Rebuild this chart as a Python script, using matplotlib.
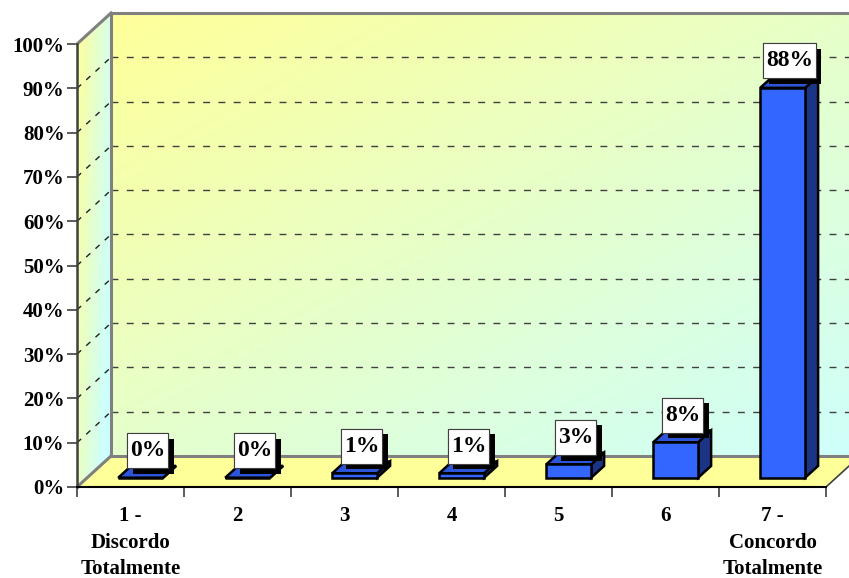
import numpy as np
import matplotlib
matplotlib.use("Agg")
import matplotlib.pyplot as plt
from matplotlib.patches import Polygon
from matplotlib.path import Path
from matplotlib import patheffects
from matplotlib.ticker import FuncFormatter

categories = ["1 -\nDiscordo\nTotalmente", "2", "3", "4", "5", "6",
              "7 -\nConcordo\nTotalmente"]
values = [0, 0, 1, 1, 3, 8, 88]
value_labels = ["0%", "0%", "1%", "1%", "3%", "8%", "88%"]
yticks = [0, 10, 20, 30, 40, 50, 60, 70, 80, 90, 100]

plt.rcParams['font.family'] = ['Liberation Serif', 'DejaVu Serif']
plt.rcParams['font.weight'] = 'bold'

W, H = 849, 578
fig = plt.figure(figsize=(W / 100, H / 100), dpi=100)
ax = fig.add_axes([77 / W, (H - 487) / H, (826 - 77) / W, (487 - 44) / H])
ax.patch.set_visible(False)

# pseudo-3d depth of the walls, in data units
DX = 0.318
DY = 7.0
XMAX = 7.3


def proj(x, y, d):
    return (x + d * DX, y + d * DY)


def label_box(x0, y0, width, height, mutation_size):
    # square box, more room above/below the text than at the sides
    px = 0.12 * mutation_size
    py = 0.3 * mutation_size
    x0, y0 = x0 - px, y0 - py
    x1, y1 = x0 + width + 2 * px, y0 + height + 2 * py
    return Path([(x0, y0), (x1, y0), (x1, y1), (x0, y1), (x0, y0)],
                closed=True)


# colour ramp for the walls (yellow -> pale cyan)
c0 = np.array([255, 255, 153]) / 255
c1 = np.array([204, 255, 255]) / 255

# back wall
u = np.linspace(0, 1, 400)[None, :]
v = np.linspace(0, 1, 200)[:, None]
t = (u + v) / 2
img = c0 + (c1 - c0) * t[..., None]
bx0, by0 = proj(-0.5, 0, 1)
ax.imshow(img, extent=(bx0, XMAX, by0, 100 + DY), origin='upper',
          aspect='auto', interpolation='bilinear', clip_on=False, zorder=0)

# side wall
side_poly = Polygon([proj(-0.5, 0, 0), proj(-0.5, 100, 0),
                     proj(-0.5, 100, 1), proj(-0.5, 0, 1)],
                    closed=True, fc='none', ec='none',
                    transform=ax.transData)
t2 = np.clip(0.8 * u + 0.4 * v, 0, 1)
img2 = c0 + (c1 - c0) * t2[..., None]
im2 = ax.imshow(img2, extent=(-0.5, -0.5 + DX, 0, 100 + DY), origin='upper',
                aspect='auto', interpolation='bilinear', zorder=0)
im2.set_clip_box(fig.bbox)
im2.set_clip_path(side_poly)

# floor
floor = Polygon([proj(-0.5, 0, 0), proj(6.5, 0, 0), proj(6.5, 0, 1),
                 proj(-0.5, 0, 1)], closed=True, fc='#FFFF99', ec='none',
                zorder=1, clip_on=False)
ax.add_patch(floor)

# gridlines on back and side walls
for g in yticks[1:-1]:
    ax.plot([bx0, XMAX], [g + DY, g + DY], ls=(0, (5, 6)), color='#404040',
            lw=1, clip_on=False, zorder=0.5)
    ax.plot([-0.5, -0.5 + DX], [g, g + DY], ls=(0, (4, 5)), color='#202020',
            lw=1, clip_on=False, zorder=0.5)

# wall edges
edge = dict(color='#808080', lw=2.2, clip_on=False, zorder=2,
            solid_capstyle='projecting')
ax.plot([bx0, XMAX], [100 + DY, 100 + DY], **edge)
ax.plot([bx0, bx0], [by0, 100 + DY], **edge)
ax.plot([-0.5, bx0], [100, 100 + DY], **edge)
ax.plot([bx0, XMAX], [by0, by0], **edge)
ax.plot([-0.5, bx0], [0, by0], **edge)
rx, ry = proj(6.5, 0, 1)
ax.plot([6.5, rx], [0, ry], color='#404040', lw=1.2, clip_on=False, zorder=2)

# bars
BW = 0.42
D0, D1 = 0.3, 0.68
for i, val in enumerate(values):
    xl, xr = i - BW / 2, i + BW / 2
    faces = [
        ([proj(xr, 0, D0), proj(xr, 0, D1), proj(xr, val, D1),
          proj(xr, val, D0)], '#1B3485'),
        ([proj(xl, val, D0), proj(xr, val, D0), proj(xr, val, D1),
          proj(xl, val, D1)], '#2D55D9'),
        ([proj(xl, 0, D0), proj(xr, 0, D0), proj(xr, val, D0),
          proj(xl, val, D0)], '#3366FF'),
    ]
    for pts, col in faces:
        ax.add_patch(Polygon(pts, closed=True, fc=col, ec='black', lw=1.8,
                             joinstyle='miter', clip_on=False, zorder=3))

# value labels with drop shadow
for i, (val, lab) in enumerate(zip(values, value_labels)):
    x, y = proj(i, val, 0.5)
    txt = ax.annotate(lab, (x, y), xytext=(0, 15), textcoords='offset points',
                      ha='center', va='center', fontsize=17,
                      fontweight='bold', annotation_clip=False, zorder=6,
                      bbox=dict(boxstyle=label_box, fc='white',
                                ec='#404040', lw=0.8))
    txt.get_bbox_patch().set_path_effects([
        patheffects.withSimplePatchShadow(offset=(4, -4),
                                          shadow_rgbFace='black', alpha=1.0),
        patheffects.Normal()])

ax.set_xlim(-0.5, 6.5)
ax.set_ylim(0, 100)

ax.set_yticks(yticks)
ax.yaxis.set_major_formatter(FuncFormatter(lambda v, p: f"{int(v)}%"))
ax.tick_params(axis='y', direction='out', length=7, width=1.2,
               color='#404040', labelsize=15, pad=2)

ax.set_xticks(np.arange(-0.5, 7, 1))
ax.set_xticklabels([])
ax.set_xticks(range(len(categories)), minor=True)
ax.set_xticklabels(categories, minor=True, fontsize=15, fontweight='bold',
                   linespacing=1.42)
ax.tick_params(axis='x', which='major', direction='out', length=7, width=1.2,
               color='#404040')
ax.tick_params(axis='x', which='minor', length=0, pad=14)

for s in ['top', 'right']:
    ax.spines[s].set_visible(False)
ax.spines['left'].set_color('#404040')
ax.spines['left'].set_linewidth(1.8)
ax.spines['bottom'].set_color('black')
ax.spines['bottom'].set_linewidth(1.5)
for s in ax.spines.values():
    s.set_zorder(2.5)

fig.savefig('out.png', dpi=100)
